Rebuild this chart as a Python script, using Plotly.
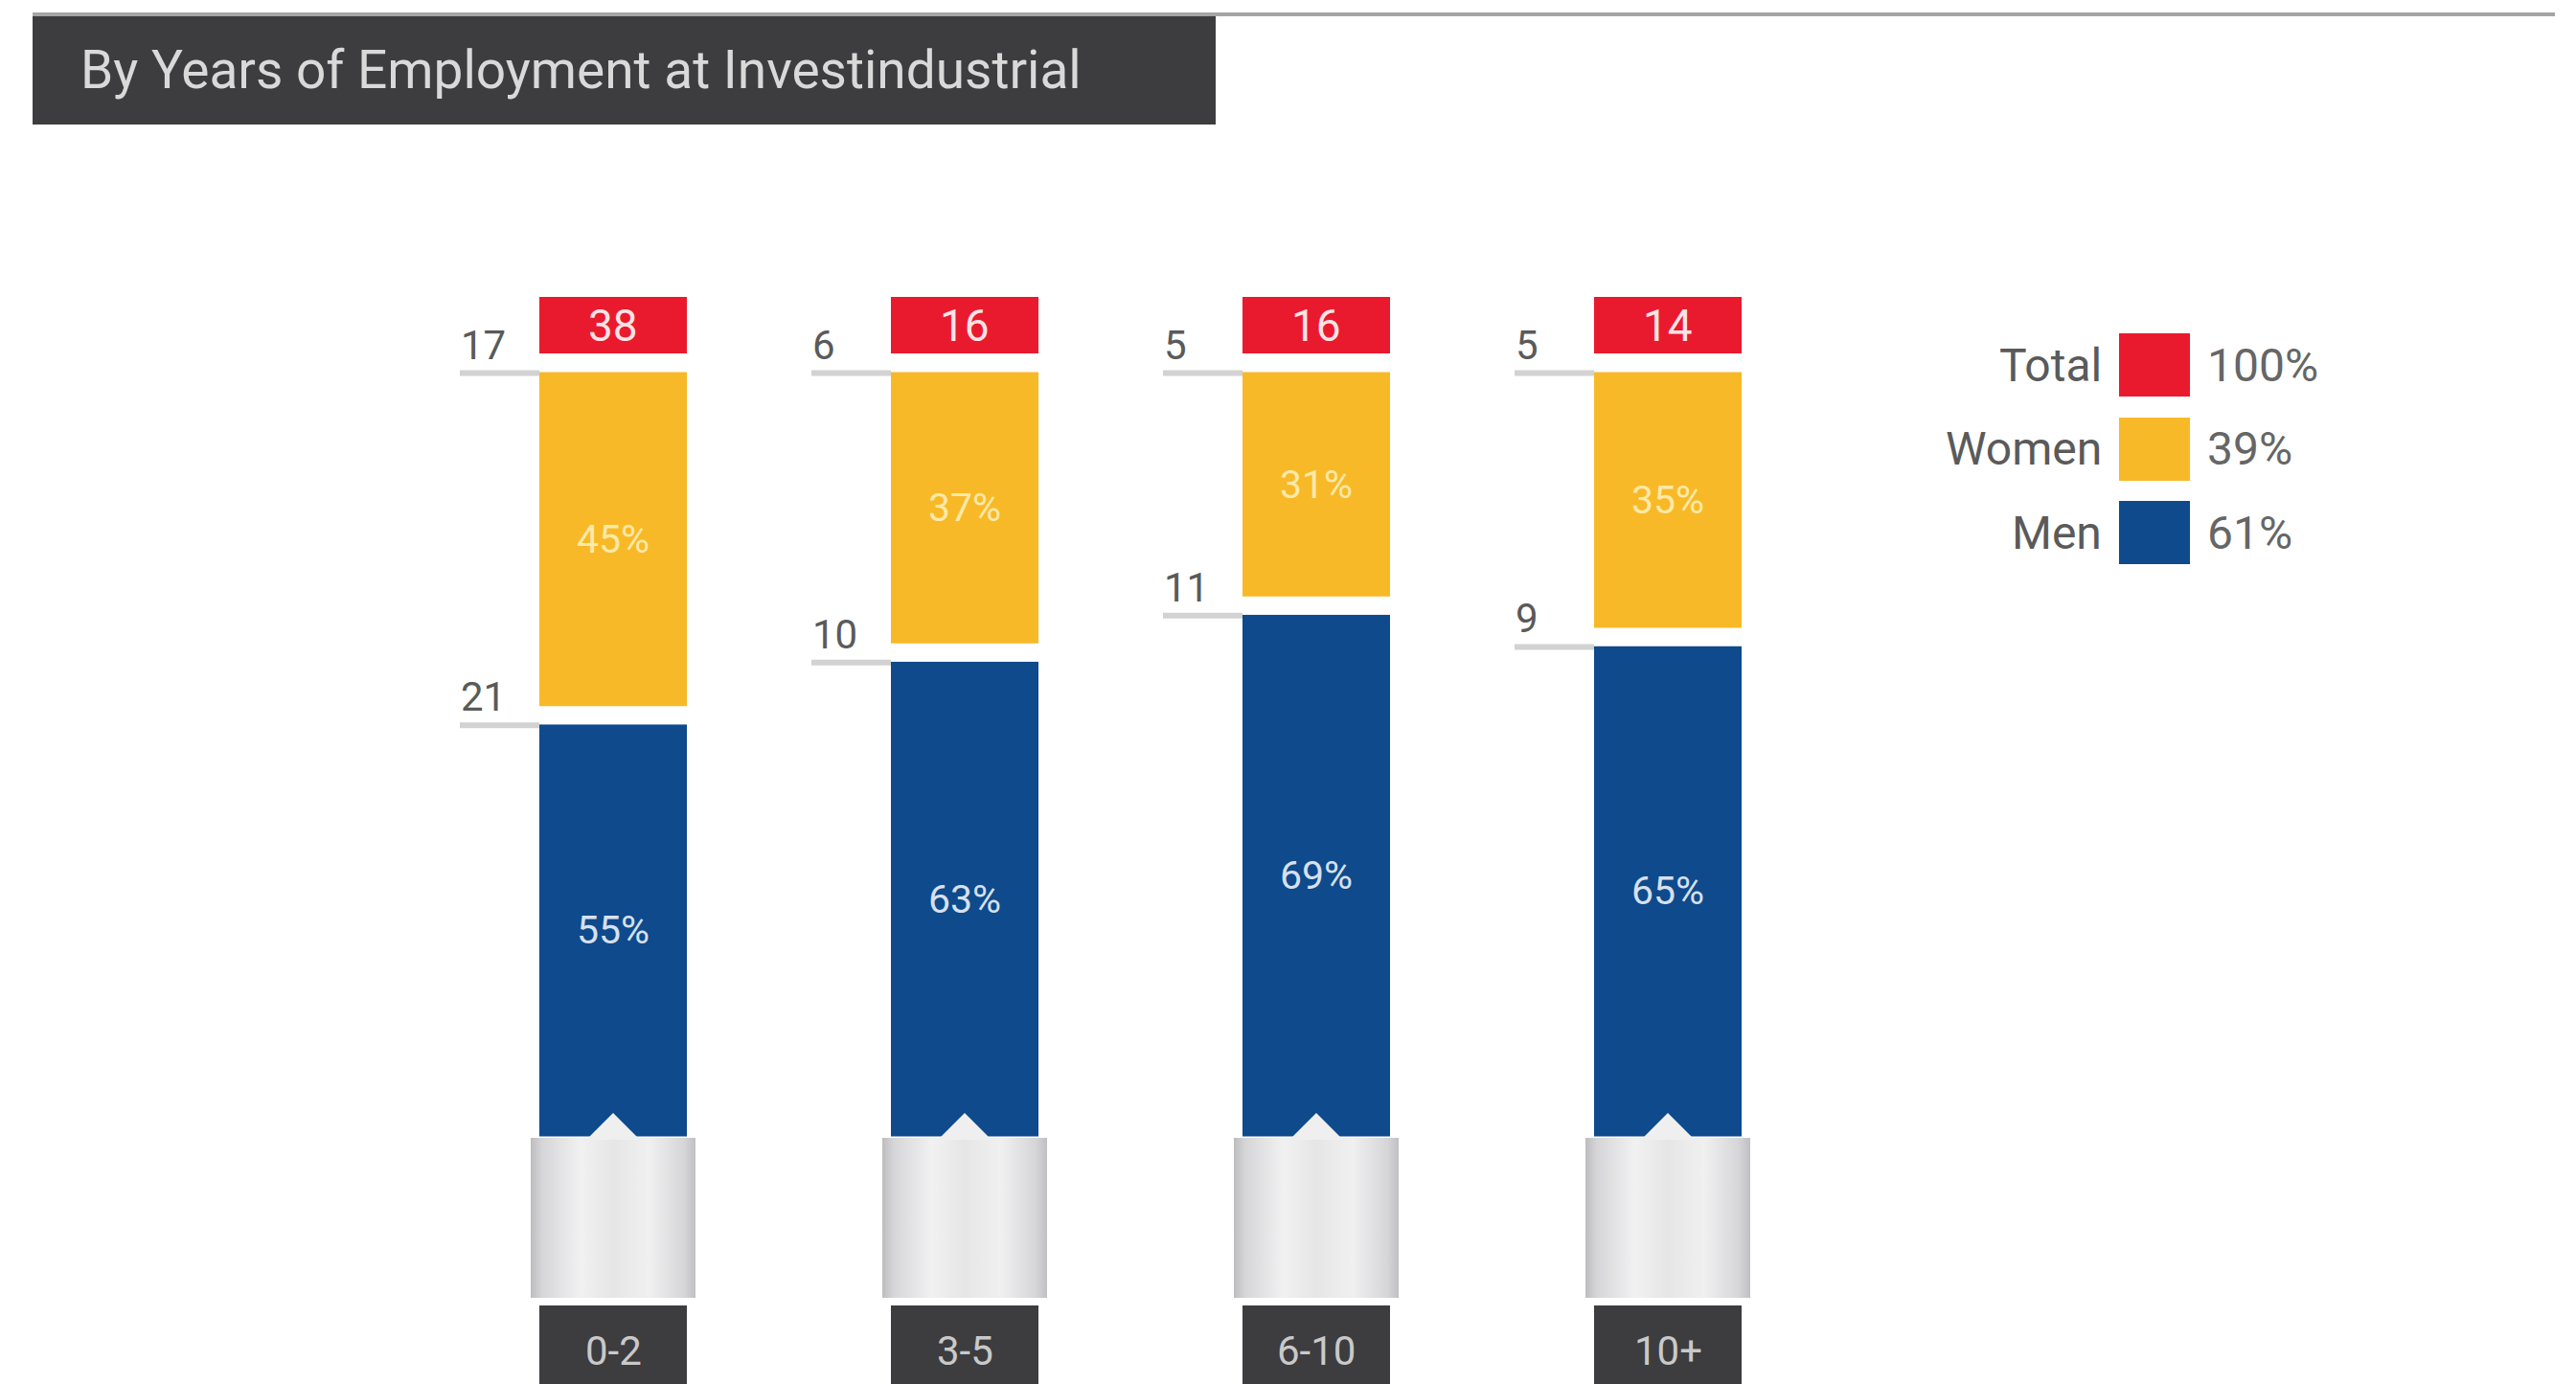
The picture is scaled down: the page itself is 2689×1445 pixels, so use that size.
import plotly.graph_objects as go

# ---- data ----
tenure_bands = ["0-2", "3-5", "6-10", "10+"]
total_staff = [38, 16, 16, 14]
women_count = [17, 6, 5, 5]
men_count = [21, 10, 11, 9]
women_pct = [45, 37, 31, 35]
men_pct = [55, 63, 69, 65]

legend_labels = ["Total", "Women", "Men"]
legend_values = ["100%", "39%", "61%"]

TITLE = "By Years of Employment at Investindustrial"

# ---- palette / fonts ----
RED = "#ea1a2e"
YELLOW = "#f8b928"
BLUE = "#0e4a8c"
DARK = "#3d3c3f"
GREY_TXT = "#5a5a5a"
FONT = "Roboto, Liberation Sans, sans-serif"

# ---- canvas geometry ----
W, H = 2689, 1445
X0_PX, X_STEP = 640, 367          # pixel centre of first column, spacing between columns
Y0_PX, PXU = 1196, 8.17            # pixel row of 0 %, pixels per percentage point
GAP = 19                           # white separator between stacked segments
BAR_PX = 154                       # visible bar width

x_range = [-X0_PX / X_STEP, (W - X0_PX) / X_STEP]
y_range = [-(H - Y0_PX) / PXU, Y0_PX / PXU]


def ypx(p):
    """pixel row -> y data value"""
    return (Y0_PX - p) / PXU


def dx(px):
    """pixel width -> x data units"""
    return px / X_STEP


def paper_x(px):
    return px / W


def paper_y(py):
    return 1 - py / H


idx = list(range(len(tenure_bands)))
bar_w = dx(BAR_PX + GAP)
half = dx(BAR_PX / 2)

fig = go.Figure()

# stacked segments: men at the bottom, women above
fig.add_trace(go.Bar(
    x=idx, y=men_pct, base=[0] * len(idx), width=bar_w,
    marker=dict(color=BLUE, line=dict(color="white", width=GAP)),
    text=[f"{v}%" for v in men_pct], textposition="inside",
    insidetextanchor="middle", textangle=0,
    textfont=dict(family=FONT, size=41, color="#d7e0ee"),
    hoverinfo="skip", showlegend=False,
))
fig.add_trace(go.Bar(
    x=idx, y=women_pct, base=men_pct, width=bar_w,
    marker=dict(color=YELLOW, line=dict(color="white", width=GAP)),
    text=[f"{v}%" for v in women_pct], textposition="inside",
    insidetextanchor="middle", textangle=0,
    textfont=dict(family=FONT, size=41, color="#fde9a8"),
    hoverinfo="skip", showlegend=False,
))

shapes = []
annotations = []

for i in idx:
    top = men_pct[i] + women_pct[i]
    # pedestal with a cylindrical shading
    bx = [i - dx(86), i + dx(86), i + dx(86), i - dx(86), i - dx(86)]
    by = [ypx(1355), ypx(1355), ypx(1188), ypx(1188), ypx(1355)]
    fig.add_trace(go.Scatter(
        x=bx, y=by, mode="lines", fill="toself", line=dict(width=0),
        fillgradient=dict(type="horizontal", colorscale=[
            [0.0, "#bdbdbf"], [0.07, "#d6d6d8"], [0.3, "#f1f1f2"],
            [0.5, "#e6e6e7"], [0.72, "#f0f0f1"], [0.93, "#d6d6d8"], [1.0, "#c0c0c2"]]),
        hoverinfo="skip", showlegend=False,
    ))
    # little notch pointing up into the bar
    fig.add_trace(go.Scatter(
        x=[i - dx(28), i, i + dx(28), i - dx(28)],
        y=[ypx(1190), ypx(1162), ypx(1190), ypx(1190)],
        mode="lines", fill="toself", fillcolor="#efeff0", line=dict(width=0),
        hoverinfo="skip", showlegend=False,
    ))

    # category label plate
    shapes.append(dict(type="rect", xref="x", yref="y",
                       x0=i - half, x1=i + half, y0=ypx(1363), y1=ypx(1470),
                       fillcolor=DARK, line=dict(width=0), layer="above"))
    annotations.append(dict(x=i, y=ypx(1410), xref="x", yref="y", text=tenure_bands[i],
                            showarrow=False, font=dict(family=FONT, size=42, color="#c9c9c9")))

    # red total plate above the bar
    shapes.append(dict(type="rect", xref="x", yref="y",
                       x0=i - half, x1=i + half, y0=top + 10 / PXU, y1=top + 69 / PXU,
                       fillcolor=RED, line=dict(width=0), layer="above"))
    annotations.append(dict(x=i, y=top + 39.5 / PXU, xref="x", yref="y", text=str(total_staff[i]),
                            showarrow=False, font=dict(family=FONT, size=46, color="#fbe3e5")))

    # leader lines with head counts for each segment
    for seg_top, count in ((top, women_count[i]), (men_pct[i], men_count[i])):
        ly = seg_top - (GAP / 2 + 1) / PXU
        shapes.append(dict(type="line", xref="x", yref="y",
                           x0=i - dx(160), x1=i - half, y0=ly, y1=ly,
                           line=dict(color="#d2d2d2", width=6), layer="above"))
        annotations.append(dict(x=i - dx(161), y=ly, xref="x", yref="y", text=str(count),
                                xanchor="left", yanchor="bottom", yshift=3, showarrow=False,
                                font=dict(family=FONT, size=42, color=GREY_TXT)))

# header band
shapes.append(dict(type="line", xref="paper", yref="paper",
                   x0=paper_x(34), x1=paper_x(2667), y0=paper_y(15), y1=paper_y(15),
                   line=dict(color="#a5a5a5", width=4)))
shapes.append(dict(type="rect", xref="paper", yref="paper",
                   x0=paper_x(34), x1=paper_x(1269), y0=paper_y(130), y1=paper_y(17),
                   fillcolor=DARK, line=dict(width=0)))
annotations.append(dict(x=paper_x(82), y=paper_y(73), xref="paper", yref="paper",
                        text=TITLE, xanchor="left", yanchor="middle", showarrow=False,
                        font=dict(family=FONT, size=55, color="#d9d9d9")))

# legend
legend_colors = [RED, YELLOW, BLUE]
legend_rows = [381, 469, 556]
for lab, val, col, cy in zip(legend_labels, legend_values, legend_colors, legend_rows):
    shapes.append(dict(type="rect", xref="paper", yref="paper",
                       x0=paper_x(2212), x1=paper_x(2286),
                       y0=paper_y(cy + 33), y1=paper_y(cy - 33),
                       fillcolor=col, line=dict(width=0)))
    annotations.append(dict(x=paper_x(2196), y=paper_y(cy), xref="paper", yref="paper",
                            text=lab, xanchor="right", yanchor="middle", showarrow=False,
                            font=dict(family=FONT, size=48, color=GREY_TXT)))
    annotations.append(dict(x=paper_x(2302), y=paper_y(cy), xref="paper", yref="paper",
                            text=val, xanchor="left", yanchor="middle", showarrow=False,
                            font=dict(family=FONT, size=48, color="#666666")))

fig.update_layout(
    width=W, height=H,
    margin=dict(l=0, r=0, t=0, b=0),
    paper_bgcolor="white", plot_bgcolor="white",
    barmode="overlay",
    xaxis=dict(range=x_range, visible=False, fixedrange=True),
    yaxis=dict(range=y_range, visible=False, fixedrange=True),
    shapes=shapes, annotations=annotations,
    showlegend=False,
)

fig.write_html("out.html")
